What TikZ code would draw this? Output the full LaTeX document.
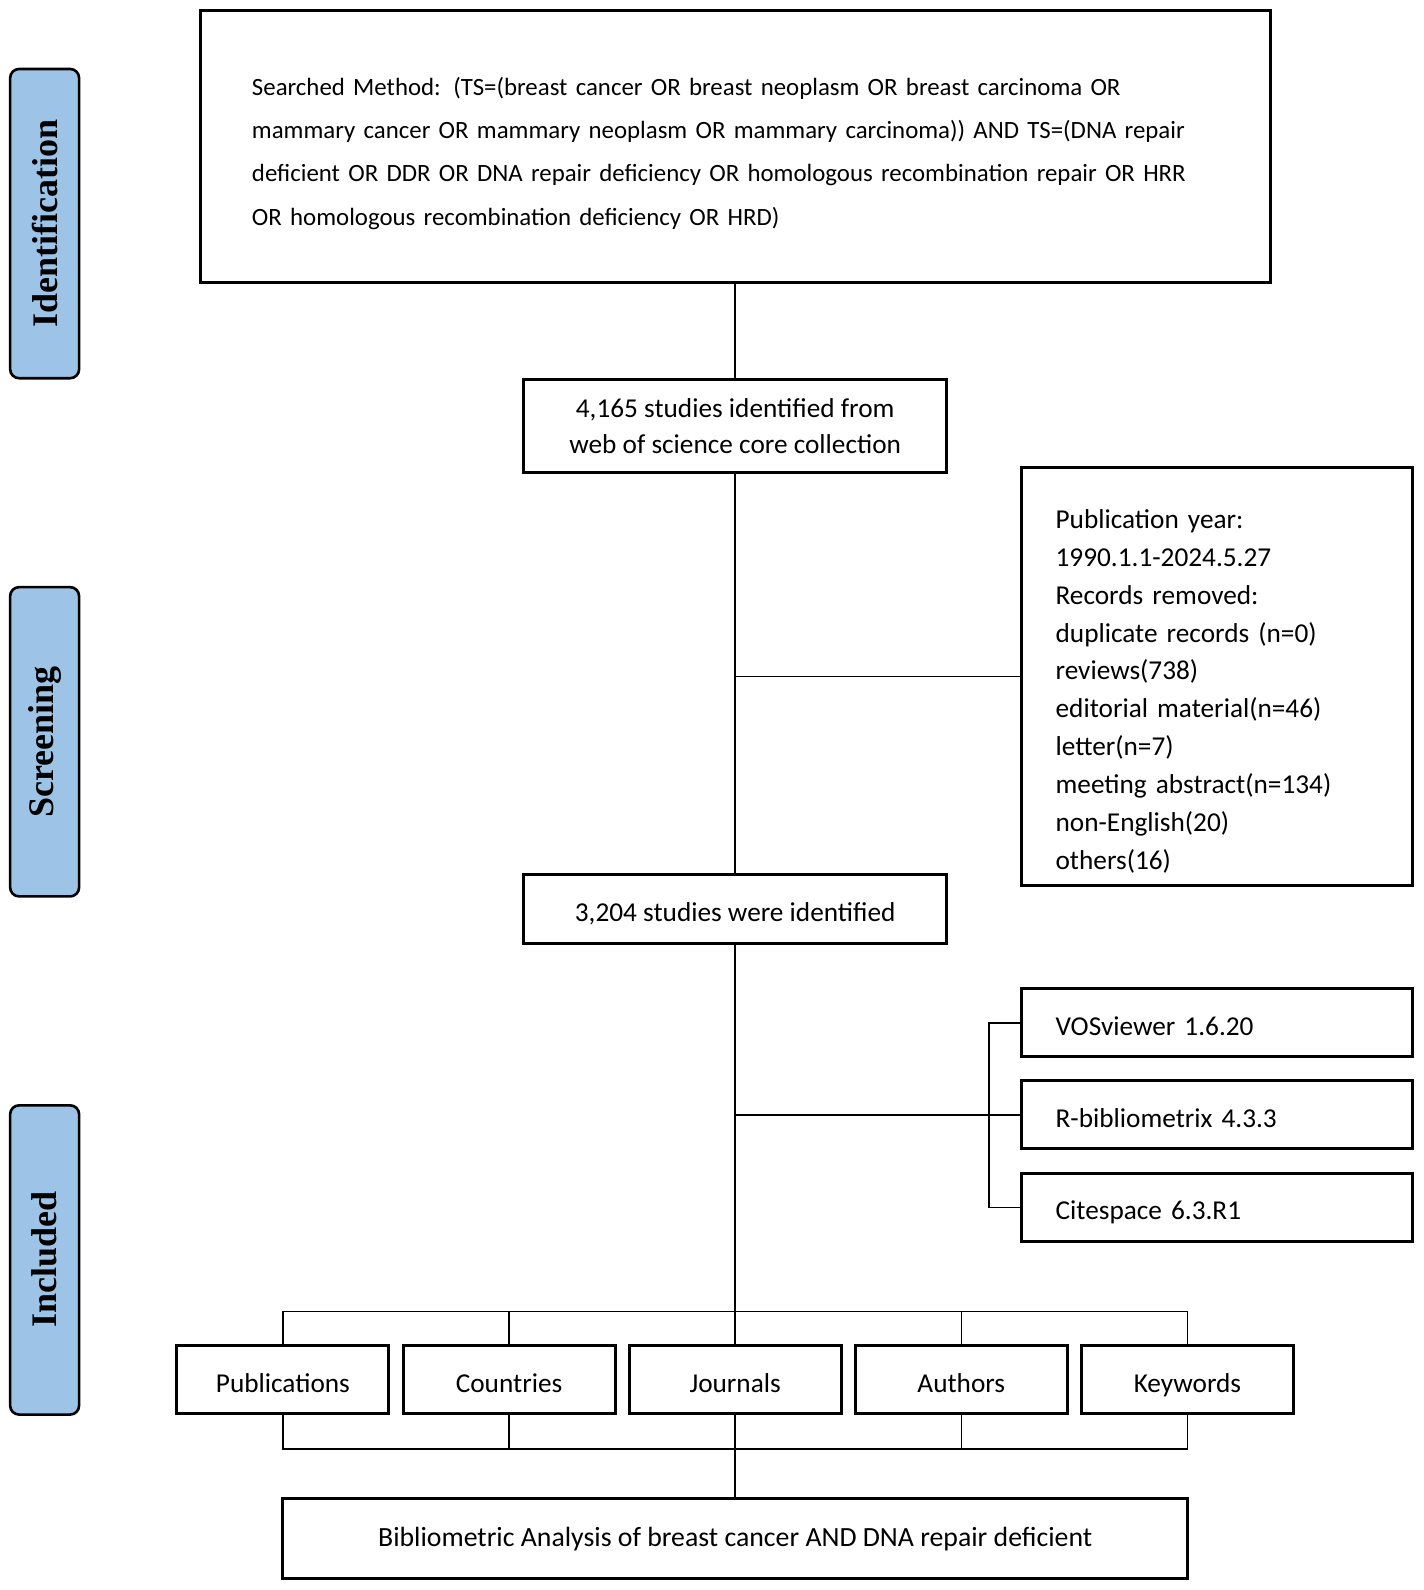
\documentclass[tikz,border=0pt]{standalone}
\usepackage{fontspec}
\setmainfont{Carlito}
\newfontfamily\stagefont{Liberation Serif}
\usetikzlibrary{positioning}
\definecolor{stageblue}{HTML}{9DC3E6}

\begin{document}
\begin{tikzpicture}[x=1pt,y=-1pt,scale=1.014,transform shape,
  box/.style={draw, line width=3pt, inner sep=0pt, outer sep=0pt, font=\fontsize{26.9}{35}\selectfont},
  single/.style={text height=28pt, text depth=3pt},
  stage/.style={draw, line width=2.6pt, rounded corners=9pt, fill=stageblue, rotate=90,
    minimum width=305pt, minimum height=68pt, inner sep=0pt,
    font=\stagefont\bfseries\fontsize{35.5}{40}\selectfont},
  link/.style={line width=1.7pt}]
\useasboundingbox (0,0) rectangle (1403.4,1568);

\node[stage] (ident) at (44,220.5) {Identification};
\node[stage] (screen) at (44,731.5) {Screening};
\node[stage] (incl) at (44,1242.5) {Included};

\node[box, minimum width=1055pt, minimum height=269pt, text width=953pt, align=left,
  font=\fontsize{24.5}{42.7}\selectfont] (search) at (725,144.5)
  {\rule{0pt}{31pt}Searched Method: (TS=(breast cancer OR breast neoplasm OR breast carcinoma OR\\
   mammary cancer OR mammary neoplasm OR mammary carcinoma)) AND TS=(DNA repair\\
   deficient OR DDR OR DNA repair deficiency OR homologous recombination repair OR HRR\\
   OR homologous recombination deficiency OR HRD)};
\node[box, minimum width=417pt, minimum height=92pt, align=center] (found) at (725,420)
  {4,165 studies identified from\\web of science core collection};
\node[box, minimum width=386pt, minimum height=412pt, text width=318pt, align=left,
  font=\fontsize{26.9}{37.3}\selectfont] (removed) at (1200,667)
  {\rule{0pt}{48pt}Publication year:\\1990.1.1-2024.5.27\\Records removed:\\duplicate records (n=0)\\
   reviews(738)\\editorial material(n=46)\\letter(n=7)\\meeting abstract(n=134)\\
   non-English(20)\\others(16)};
\node[box, single, minimum width=417pt, minimum height=68pt] (kept) at (725,896)
  {3,204 studies were identified};

\node[box, single, minimum width=386pt, minimum height=67pt, text width=318pt, align=left] (vos) at (1200,1008.5) {VOSviewer 1.6.20};
\node[box, single, minimum width=386pt, minimum height=67pt, text width=318pt, align=left] (rbib) at (1200,1099.5) {R-bibliometrix 4.3.3};
\node[box, single, minimum width=386pt, minimum height=67pt, text width=318pt, align=left] (cite) at (1200,1190.5) {Citespace 6.3.R1};

\node[box, single, minimum width=209pt, minimum height=67pt] (pub) at (279,1360.5) {Publications};
\node[box, single, minimum width=209pt, minimum height=67pt] (ctry) at (502,1360.5) {Countries};
\node[box, single, minimum width=209pt, minimum height=67pt] (jour) at (725,1360.5) {Journals};
\node[box, single, minimum width=209pt, minimum height=67pt] (auth) at (948,1360.5) {Authors};
\node[box, single, minimum width=209pt, minimum height=67pt] (key) at (1171,1360.5) {Keywords};

\node[box, minimum width=892pt, minimum height=79pt, font=\fontsize{27.4}{35}\selectfont] (result) at (725,1517.5)
  {Bibliometric Analysis of breast cancer AND DNA repair deficient};

\draw[link] (search.south) -- (found.north);
\draw[link] (found.south) -- (kept.north);
\draw[link] (found.south |- removed.west) -- (removed.west);

\draw[link] (kept.south) -- (jour.north);
\draw[link] (kept.south |- rbib.west) -- (rbib.west);
\draw[link] (vos.west) -- ++(-32,0) |- (cite.west);

\draw[link] (pub.north) -- ++(0,-34) -| (key.north);
\draw[link] (ctry.north) -- ++(0,-34);
\draw[link] (auth.north) -- ++(0,-34);

\draw[link] (pub.south) -- ++(0,35) -| (key.south);
\draw[link] (ctry.south) -- ++(0,35);
\draw[link] (auth.south) -- ++(0,35);
\draw[link] (jour.south) -- (result.north);

\end{tikzpicture}
\end{document}
